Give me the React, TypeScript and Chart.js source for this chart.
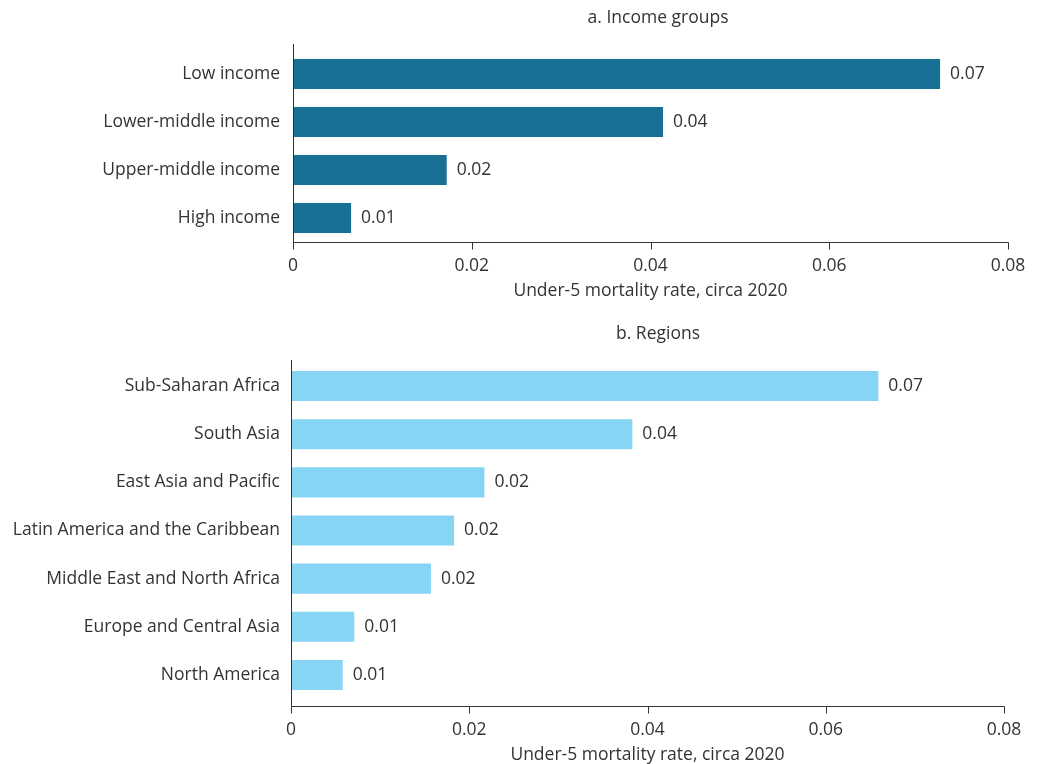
import React, { useEffect, useRef } from 'react';
import { Chart, registerables } from 'chart.js';

Chart.register(...registerables);

const incomeCategories = ['Low income', 'Lower-middle income', 'Upper-middle income', 'High income'];
const incomeValues = [0.0724, 0.0414, 0.0172, 0.0065];

const regionCategories = [
  'Sub-Saharan Africa',
  'South Asia',
  'East Asia and Pacific',
  'Latin America and the Caribbean',
  'Middle East and North Africa',
  'Europe and Central Asia',
  'North America',
];
const regionValues = [0.0659, 0.0383, 0.0217, 0.0183, 0.0157, 0.0071, 0.0058];

const xMin = 0;
const xMax = 0.08;
const xStep = 0.02;
const axisTitle = 'Under-5 mortality rate, circa 2020';

const FONT = '"Open Sans", sans-serif';
const TEXT = '#333333';
const AXIS = '#333333';
const LABEL_SIZE = 17.5;

const fmtTick = (v: number) => (v === 0 ? '0' : v.toFixed(2));

type PanelProps = {
  categories: string[];
  values: number[];
  color: string;
  title: string;
  top: number;
  height: number;
  axisLeft: number;
  rightPad: number;
  plotTop: number;
  plotBottom: number;
  axisTopY: number;
  axisGap: number;
  titleY: number;
  titleX: number;
  yLabelPad: number;
};

function Panel(p: PanelProps) {
  const ref = useRef<HTMLCanvasElement | null>(null);
  useEffect(() => {
    if (!ref.current) return;
    const labelPlugin = {
      id: 'customText',
      afterDatasetsDraw(chart: any) {
        const ctx = chart.ctx;
        const area = chart.chartArea;
        const xs = chart.scales.x;
        ctx.save();
        ctx.font = `${LABEL_SIZE}px ${FONT}`;
        ctx.fillStyle = TEXT;
        ctx.textAlign = 'left';
        ctx.textBaseline = 'middle';
        const meta = chart.getDatasetMeta(0);
        meta.data.forEach((bar: any, i: number) => {
          const v = p.values[i];
          ctx.fillText(v.toFixed(2), bar.x + 10, bar.y);
        });
        const axisY = Math.round(area.bottom + p.axisGap) + 0.5;
        const leftX = Math.round(area.left) + 0.5;
        ctx.strokeStyle = AXIS;
        ctx.lineWidth = 1;
        ctx.beginPath();
        ctx.moveTo(leftX, p.axisTopY);
        ctx.lineTo(leftX, axisY);
        ctx.moveTo(leftX, axisY);
        ctx.lineTo(Math.round(area.right) + 0.5, axisY);
        xs.ticks.forEach((t: any) => {
          const px = Math.round(xs.getPixelForValue(t.value)) + 0.5;
          ctx.moveTo(px, axisY);
          ctx.lineTo(px, axisY + 7);
        });
        ctx.stroke();
        ctx.textAlign = 'center';
        ctx.textBaseline = 'middle';
        ctx.font = `${LABEL_SIZE}px ${FONT}`;
        xs.ticks.forEach((t: any) => {
          const px = xs.getPixelForValue(t.value);
          ctx.fillText(fmtTick(Number(t.value)), px, axisY + 24);
        });
        ctx.fillText(axisTitle, (area.left + area.right) / 2, axisY + 49);
        ctx.font = `17.5px ${FONT}`;
        ctx.fillText(p.title, p.titleX, p.titleY);
        ctx.restore();
      },
    };
    const chart = new Chart(ref.current, {
      type: 'bar',
      data: {
        labels: p.categories,
        datasets: [
          {
            data: p.values,
            backgroundColor: p.color,
            barPercentage: 0.625,
            categoryPercentage: 1,
          },
        ],
      },
      options: {
        indexAxis: 'y',
        responsive: false,
        animation: false,
        layout: { padding: { top: p.plotTop, right: p.rightPad, left: 0, bottom: 0 } },
        plugins: { legend: { display: false }, tooltip: { enabled: false }, title: { display: false } },
        scales: {
          x: {
            min: xMin,
            max: xMax,
            ticks: { stepSize: xStep, display: false },
            grid: { display: false, drawOnChartArea: false, drawTicks: false, tickLength: 0 },
            border: { display: false },
            afterFit: (s: any) => {
              s.height = p.height - p.plotBottom;
            },
          },
          y: {
            ticks: { color: TEXT, font: { family: FONT, size: LABEL_SIZE }, padding: p.yLabelPad },
            grid: { display: false, drawTicks: false, tickLength: 0 },
            border: { display: false },
            afterFit: (s: any) => {
              s.width = p.axisLeft;
            },
          },
        },
      },
      plugins: [labelPlugin],
    });
    return () => chart.destroy();
  }, []);
  return (
    <canvas
      ref={ref}
      width={1039}
      height={p.height}
      style={{ position: 'absolute', left: 0, top: p.top, width: 1039, height: p.height, display: 'block' }}
    />
  );
}

export default function App() {
  return (
    <div
      style={{
        position: 'absolute',
        left: 0,
        top: 0,
        width: 1039,
        height: 764,
        background: '#ffffff',
        overflow: 'hidden',
      }}
    >
      <Panel
        categories={incomeCategories}
        values={incomeValues}
        color="#187094"
        title="a. Income groups"
        top={0}
        height={305}
        axisLeft={293}
        rightPad={31}
        plotTop={50}
        plotBottom={242}
        axisTopY={44}
        axisGap={0}
        titleY={18}
        titleX={658}
        yLabelPad={13}
      />
      <Panel
        categories={regionCategories}
        values={regionValues}
        color="#87D5F5"
        title="b. Regions"
        top={318}
        height={446}
        axisLeft={291}
        rightPad={35}
        plotTop={44}
        plotBottom={381}
        axisTopY={42}
        axisGap={7}
        titleY={16}
        titleX={658}
        yLabelPad={11}
      />
    </div>
  );
}
